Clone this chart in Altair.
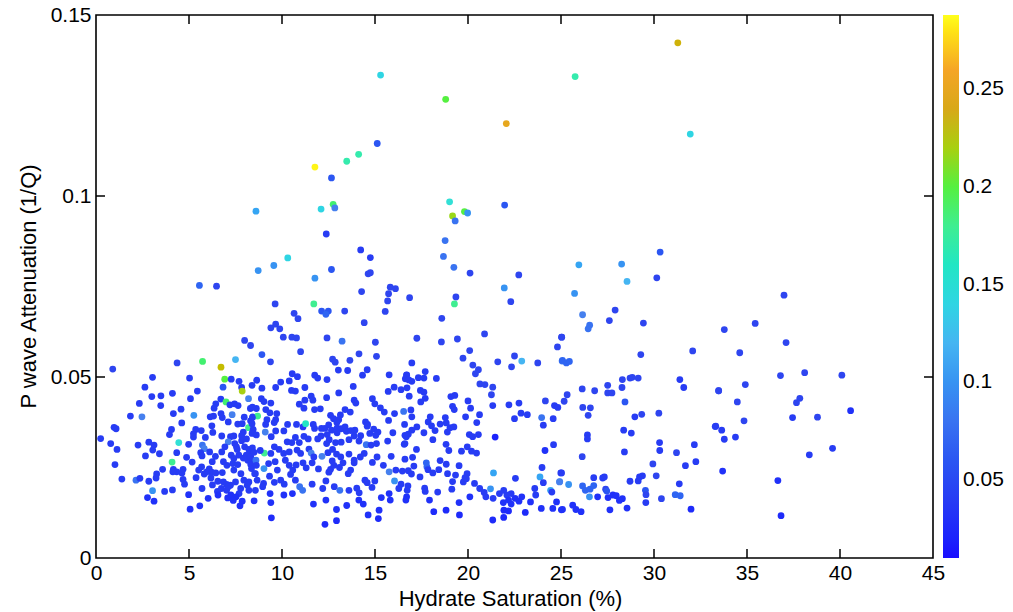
import altair as alt
import pandas as pd

# Each row: [hydrate saturation (%), P-wave attenuation (1/Q), colour value]
low_sat = [
[5.56,0.0753,0.07],[6.48,0.0751,0.05],[7.99,0.0601,0.05],[8.31,0.0587,0.05],[4.36,0.0539,0.05],[5.73,0.0543,0.19],[6.72,0.0527,0.23],[7.5,0.0548,0.12],[0.9,0.0522,0.05],[3.04,0.0499,0.04],[5.03,0.0497,0.04],[6.92,0.0494,0.2],[7.27,0.0494,0.04],[7.69,0.0488,0.04],[6.83,0.0472,0.06],[7.83,0.0471,0.04],[7.86,0.0461,0.22],[2.63,0.0472,0.04],[5.45,0.0461,0.04],[4.11,0.0455,0.04],[3.0,0.0446,0.04],[3.49,0.0448,0.04],[5.08,0.044,0.04],[6.71,0.0439,0.04],[8.2,0.044,0.09],[2.33,0.0427,0.04],[3.48,0.0421,0.04],[6.44,0.0426,0.04],[6.99,0.0431,0.19],[7.2,0.0423,0.04],[7.45,0.0426,0.04],[7.64,0.0421,0.04],[4.57,0.0411,0.04],[6.35,0.0414,0.04],[8.3,0.0413,0.04],[1.85,0.0392,0.04],[2.47,0.039,0.09],[4.16,0.0399,0.04],[5.26,0.0394,0.1],[7.32,0.0396,0.09],[6.14,0.039,0.04],[6.32,0.0392,0.04],[6.72,0.0399,0.04],[6.79,0.0388,0.04],[7.97,0.0389,0.04],[8.43,0.039,0.04],[4.61,0.0373,0.04],[7.11,0.0376,0.04],[7.62,0.037,0.04],[7.86,0.0371,0.04],[8.31,0.0379,0.04],[6.23,0.0365,0.04],[0.97,0.0361,0.04],[1.08,0.0357,0.04],[8.2,0.036,0.18],[4.06,0.0355,0.04],[5.36,0.0355,0.04],[5.24,0.0343,0.04],[5.66,0.0352,0.04],[6.28,0.0347,0.04],[7.92,0.0348,0.04],[8.43,0.0346,0.04],[0.25,0.033,0.04],[3.95,0.0341,0.04],[6.76,0.0337,0.04],[7.23,0.0335,0.04],[7.41,0.0337,0.04],[7.83,0.0338,0.04],[5.24,0.0334,0.04],[5.88,0.0333,0.04],[7.11,0.0321,0.09],[7.83,0.0324,0.04],[8.09,0.0329,0.04],[4.45,0.0319,0.15],[0.79,0.0316,0.04],[2.84,0.032,0.04],[2.26,0.0312,0.04],[3.12,0.0312,0.04],[4.98,0.0314,0.04],[5.72,0.0312,0.08],[5.82,0.0302,0.09],[7.46,0.0316,0.04],[7.55,0.0307,0.04],[6.93,0.0307,0.04],[1.13,0.03,0.04],[3.05,0.0298,0.04],[7.59,0.03,0.04],[7.99,0.0307,0.04],[8.22,0.03,0.04],[8.36,0.0292,0.04],[3.41,0.0288,0.04],[4.34,0.0291,0.04],[5.63,0.0291,0.04],[6.11,0.0293,0.04],[6.76,0.0293,0.04],[2.66,0.0282,0.04],[4.87,0.0278,0.04],[5.7,0.0282,0.04],[6.42,0.0281,0.04],[7.27,0.0284,0.04],[7.41,0.0275,0.04],[7.68,0.0284,0.04],[7.92,0.0276,0.04],[8.08,0.0284,0.04],[8.16,0.027,0.04],[8.32,0.0279,0.04],[8.39,0.027,0.04],[1.02,0.0258,0.04],[4.09,0.0265,0.18],[5.17,0.0265,0.04],[6.25,0.0266,0.04],[6.85,0.0266,0.04],[7.04,0.0256,0.04],[7.36,0.0261,0.04],[7.62,0.0258,0.04],[8.32,0.0258,0.04],[5.68,0.0252,0.04],[5.52,0.0243,0.04],[3.58,0.0245,0.04],[4.16,0.0245,0.04],[4.34,0.0238,0.04],[4.68,0.0245,0.04],[4.62,0.0235,0.04],[4.13,0.0238,0.04],[6.09,0.0246,0.04],[6.21,0.0237,0.04],[5.82,0.0232,0.04],[5.96,0.0238,0.04],[6.44,0.0235,0.04],[6.79,0.0236,0.04],[7.41,0.0243,0.04],[7.79,0.0233,0.04],[8.36,0.0247,0.04],[8.53,0.0233,0.04],[3.26,0.0232,0.04],[3.23,0.0221,0.04],[1.39,0.0218,0.04],[2.15,0.0215,0.08],[2.36,0.022,0.04],[2.84,0.0212,0.04],[4.68,0.0217,0.04],[4.76,0.0204,0.04],[5.38,0.0222,0.04],[6.18,0.0221,0.04],[6.85,0.021,0.04],[7.02,0.0203,0.04],[7.23,0.0201,0.04],[6.26,0.0202,0.04],[6.55,0.0212,0.04],[7.5,0.021,0.04],[7.95,0.0215,0.04],[8.22,0.021,0.04],[3.04,0.0186,0.1],[3.69,0.0184,0.04],[4.11,0.0188,0.04],[5.7,0.0192,0.04],[6.53,0.0184,0.04],[6.74,0.0192,0.04],[7.02,0.0187,0.04],[7.11,0.0197,0.04],[7.78,0.0192,0.04],[7.69,0.0178,0.04],[8.13,0.0201,0.04],[8.22,0.0187,0.04],[4.98,0.0175,0.03],[2.77,0.0167,0.03],[3.12,0.0157,0.03],[6.03,0.0165,0.03],[6.56,0.0174,0.03],[7.08,0.0166,0.03],[7.25,0.0174,0.03],[7.53,0.0169,0.03],[8.5,0.0158,0.03],[7.38,0.0159,0.03],[7.86,0.0157,0.03],[5.58,0.0144,0.03],[5.06,0.0135,0.03],[7.74,0.0144,0.03],
]

mid_sat = [
[9.63,0.0702,0.05],[11.71,0.0702,0.18],[12.13,0.0682,0.06],[12.49,0.0682,0.06],[12.36,0.0673,0.07],[13.37,0.0682,0.05],[14.28,0.0736,0.05],[15.82,0.0748,0.05],[16.1,0.0744,0.05],[15.73,0.073,0.05],[15.68,0.071,0.05],[15.55,0.0681,0.05],[10.65,0.0676,0.05],[10.86,0.0661,0.05],[14.42,0.065,0.05],[9.4,0.0636,0.05],[9.66,0.0646,0.05],[9.88,0.0633,0.05],[10.07,0.061,0.05],[10.53,0.061,0.05],[10.78,0.0608,0.05],[12.42,0.0608,0.05],[13.23,0.0599,0.08],[15.02,0.0596,0.05],[11.0,0.057,0.05],[8.92,0.0562,0.06],[14.14,0.0564,0.05],[15.08,0.0557,0.05],[12.72,0.0549,0.05],[12.86,0.0541,0.05],[13.65,0.0546,0.05],[9.38,0.0542,0.05],[13.03,0.0519,0.04],[13.53,0.0518,0.04],[14.58,0.052,0.04],[14.33,0.0505,0.04],[15.76,0.0506,0.04],[11.76,0.0505,0.04],[11.92,0.0497,0.04],[10.55,0.0509,0.04],[10.83,0.0501,0.04],[12.42,0.0493,0.04],[16.7,0.0505,0.04],[16.63,0.0495,0.04],[8.64,0.0491,0.04],[9.93,0.0486,0.04],[10.39,0.0489,0.04],[9.66,0.0471,0.04],[8.92,0.0469,0.04],[10.51,0.0463,0.04],[10.72,0.0461,0.04],[11.23,0.0471,0.04],[13.83,0.0474,0.04],[16.03,0.0472,0.04],[15.71,0.046,0.04],[8.39,0.0477,0.04],[11.57,0.0447,0.04],[11.66,0.0436,0.04],[12.4,0.0443,0.04],[13.05,0.0456,0.04],[16.4,0.0465,0.04],[16.72,0.047,0.04],[8.89,0.044,0.04],[9.03,0.0432,0.04],[9.4,0.0428,0.04],[11.23,0.0436,0.04],[10.93,0.0425,0.04],[11.18,0.0414,0.04],[11.75,0.041,0.04],[12.06,0.0412,0.04],[13.39,0.041,0.04],[13.88,0.0436,0.04],[13.97,0.0428,0.04],[14.86,0.044,0.04],[14.99,0.0426,0.04],[15.29,0.0415,0.04],[15.5,0.0403,0.04],[16.05,0.0399,0.04],[16.54,0.0405,0.08],[8.62,0.0413,0.04],[8.41,0.0417,0.04],[9.13,0.041,0.04],[9.35,0.0401,0.04],[8.69,0.0392,0.18],[9.72,0.0399,0.04],[12.61,0.0394,0.04],[13.14,0.0395,0.04],[13.05,0.0382,0.04],[13.67,0.0403,0.04],[12.77,0.0385,0.04],[12.95,0.0374,0.04],[14.49,0.0376,0.04],[14.6,0.0369,0.04],[15.73,0.038,0.04],[16.59,0.0369,0.04],[9.19,0.0382,0.04],[9.66,0.0382,0.04],[9.58,0.0374,0.04],[9.12,0.0369,0.04],[10.3,0.0369,0.04],[10.78,0.0369,0.04],[11.13,0.0362,0.04],[11.27,0.0371,0.16],[11.68,0.0369,0.04],[11.75,0.0358,0.04],[12.12,0.0358,0.04],[12.31,0.0358,0.04],[12.51,0.0368,0.04],[12.66,0.0353,0.04],[12.96,0.0359,0.04],[13.18,0.0357,0.04],[13.39,0.0362,0.04],[13.46,0.035,0.04],[12.96,0.0346,0.04],[13.7,0.0352,0.04],[13.92,0.0353,0.04],[14.23,0.0338,0.04],[14.58,0.0364,0.04],[14.72,0.0344,0.04],[14.93,0.0356,0.04],[15.16,0.0348,0.04],[15.04,0.0339,0.04],[8.41,0.0388,0.04],[8.39,0.0371,0.04],[8.45,0.0355,0.04],[8.39,0.0344,0.04],[8.62,0.034,0.04],[9.1,0.0348,0.09],[9.42,0.0335,0.04],[9.66,0.0351,0.04],[10.1,0.0351,0.04],[10.28,0.0321,0.04],[10.53,0.0319,0.04],[10.72,0.0333,0.04],[10.93,0.0319,0.04],[11.18,0.0336,0.04],[11.41,0.0329,0.04],[11.92,0.0329,0.04],[12.1,0.0337,0.04],[12.43,0.0341,0.04],[12.54,0.0327,0.04],[12.4,0.0316,0.04],[12.88,0.0319,0.04],[13.18,0.032,0.04],[13.6,0.0327,0.04],[13.88,0.0337,0.04],[14.14,0.0323,0.04],[14.53,0.0313,0.08],[14.79,0.0312,0.04],[15.08,0.0316,0.04],[15.96,0.0346,0.04],[16.61,0.0339,0.04],[15.68,0.0323,0.04],[16.57,0.0314,0.04],[8.41,0.0304,0.04],[8.5,0.0292,0.04],[9.05,0.029,0.18],[8.83,0.0297,0.04],[9.59,0.0307,0.04],[9.4,0.0289,0.04],[9.84,0.03,0.04],[10.09,0.0289,0.04],[10.39,0.0293,0.04],[10.81,0.0298,0.04],[11.0,0.0289,0.04],[11.45,0.0301,0.04],[11.57,0.029,0.09],[11.71,0.0279,0.04],[12.15,0.0281,0.09],[12.47,0.0291,0.04],[12.72,0.03,0.04],[12.93,0.0287,0.04],[13.16,0.0279,0.04],[12.7,0.0268,0.04],[13.6,0.0287,0.04],[13.88,0.027,0.04],[14.21,0.0279,0.04],[14.42,0.0289,0.04],[14.86,0.0264,0.04],[15.11,0.0279,0.04],[15.87,0.0281,0.04],[16.61,0.0273,0.04],[8.6,0.027,0.08],[8.62,0.0256,0.04],[9.03,0.0247,0.1],[9.28,0.0261,0.04],[9.63,0.0266,0.04],[9.75,0.0243,0.04],[10.18,0.027,0.04],[10.39,0.0256,0.04],[10.58,0.0243,0.04],[10.76,0.0257,0.04],[11.13,0.0263,0.04],[11.3,0.0249,0.04],[11.62,0.0263,0.04],[11.96,0.0246,0.04],[12.52,0.0237,0.04],[12.61,0.0245,0.04],[12.79,0.0256,0.04],[13.09,0.025,0.04],[13.28,0.0263,0.04],[13.56,0.0233,0.04],[13.69,0.0243,0.04],[13.88,0.0263,0.04],[14.46,0.0215,0.04],[14.99,0.0213,0.04],[15.45,0.0256,0.04],[15.76,0.0238,0.09],[16.12,0.0243,0.04],[16.47,0.024,0.04],[16.79,0.0241,0.04],[8.57,0.0233,0.04],[8.66,0.0215,0.04],[9.01,0.0206,0.04],[8.96,0.0197,0.04],[9.33,0.0226,0.04],[9.59,0.0209,0.04],[9.93,0.0215,0.04],[10.12,0.0204,0.04],[10.46,0.0231,0.04],[10.72,0.0215,0.04],[10.95,0.0197,0.08],[11.11,0.0187,0.08],[11.62,0.0204,0.04],[12.19,0.0192,0.04],[12.36,0.0213,0.04],[12.81,0.0197,0.04],[13.11,0.0187,0.08],[13.6,0.0187,0.04],[14.02,0.0193,0.04],[14.15,0.018,0.04],[14.58,0.0208,0.04],[14.84,0.0195,0.04],[16.05,0.0213,0.1],[16.4,0.0204,0.04],[16.28,0.0192,0.04],[16.73,0.0187,0.04],[8.57,0.0187,0.04],[9.36,0.0178,0.03],[10.1,0.0174,0.03],[9.4,0.0153,0.03],[10.56,0.0178,0.03],[11.69,0.0149,0.03],[12.36,0.016,0.03],[12.93,0.0134,0.03],[13.48,0.0145,0.03],[14.13,0.016,0.03],[14.37,0.0149,0.03],[14.63,0.0119,0.03],[15.22,0.0132,0.03],[15.34,0.0167,0.03],[9.43,0.0111,0.025],[12.31,0.0093,0.025],[12.93,0.0103,0.025],[15.18,0.0109,0.025],[15.76,0.0178,0.03],[15.82,0.016,0.03],
]

upper_mid_sat = [
[21.95,0.0746,0.1],[16.86,0.0719,0.05],[19.35,0.0721,0.05],[19.27,0.0702,0.18],[22.3,0.0708,0.05],[18.59,0.0662,0.05],[20.89,0.0619,0.05],[17.25,0.0607,0.05],[18.57,0.0597,0.05],[19.43,0.0605,0.05],[20.09,0.0573,0.05],[24.81,0.0583,0.05],[25.04,0.061,0.05],[19.73,0.0552,0.05],[22.5,0.0558,0.05],[22.89,0.0544,0.12],[21.6,0.0542,0.05],[23.75,0.0539,0.05],[22.34,0.0528,0.05],[25.06,0.0544,0.08],[20.26,0.0533,0.05],[16.98,0.0539,0.04],[20.56,0.052,0.05],[20.4,0.0509,0.05],[17.7,0.0515,0.04],[18.3,0.0496,0.04],[17.33,0.0498,0.04],[17.63,0.0497,0.04],[16.7,0.0506,0.04],[16.82,0.0492,0.04],[16.98,0.0488,0.04],[20.64,0.0481,0.05],[20.91,0.0479,0.05],[21.33,0.0472,0.05],[19.08,0.0446,0.04],[19.29,0.0449,0.04],[17.44,0.0463,0.04],[17.63,0.0458,0.04],[16.84,0.0447,0.04],[17.7,0.0441,0.04],[21.26,0.0451,0.05],[20.0,0.0434,0.04],[20.14,0.0414,0.04],[19.17,0.0419,0.04],[19.26,0.041,0.04],[21.33,0.0421,0.04],[22.2,0.0423,0.04],[22.74,0.0428,0.04],[22.85,0.04,0.04],[23.19,0.0396,0.04],[22.5,0.0385,0.04],[24.16,0.0434,0.05],[24.65,0.0421,0.04],[24.83,0.0416,0.04],[16.93,0.0409,0.04],[17.46,0.0431,0.04],[16.98,0.039,0.04],[17.97,0.039,0.04],[17.86,0.0376,0.04],[18.78,0.0388,0.04],[19.87,0.039,0.04],[20.62,0.0396,0.04],[23.96,0.0388,0.08],[24.58,0.0385,0.04],[24.05,0.0367,0.04],[18.83,0.0373,0.04],[19.03,0.036,0.04],[19.24,0.0362,0.04],[20.47,0.0374,0.04],[17.25,0.0362,0.04],[16.98,0.0353,0.04],[16.79,0.0342,0.04],[18.04,0.0365,0.04],[18.23,0.0352,0.04],[17.63,0.0346,0.04],[18.5,0.037,0.04],[18.89,0.0348,0.04],[20.07,0.0341,0.04],[20.25,0.0335,0.04],[20.56,0.0341,0.04],[21.46,0.0334,0.02],[16.61,0.0316,0.04],[16.68,0.0335,0.04],[18.11,0.0327,0.04],[18.82,0.0314,0.04],[19.96,0.0307,0.04],[20.19,0.0295,0.04],[20.46,0.029,0.04],[24.6,0.0313,0.04],[24.14,0.0297,0.03],[17.23,0.03,0.04],[18.97,0.0297,0.04],[19.65,0.0295,0.04],[17.02,0.0278,0.04],[17.76,0.0263,0.07],[17.79,0.0252,0.07],[18.5,0.0269,0.04],[18.83,0.0259,0.04],[19.52,0.0255,0.04],[17.09,0.0254,0.04],[17.85,0.0244,0.04],[18.43,0.0244,0.04],[18.9,0.0233,0.04],[19.33,0.0229,0.04],[19.95,0.0233,0.04],[19.84,0.0222,0.04],[16.96,0.0232,0.04],[17.42,0.0224,0.04],[18.11,0.0235,0.04],[21.37,0.0235,0.11],[22.55,0.022,0.04],[23.98,0.025,0.04],[23.87,0.0224,0.11],[24.05,0.0208,0.04],[24.99,0.0235,0.04],[24.93,0.0211,0.09],[19.17,0.0211,0.04],[19.13,0.019,0.04],[19.75,0.021,0.04],[19.91,0.0219,0.04],[16.77,0.0199,0.04],[17.67,0.0193,0.04],[17.7,0.0184,0.04],[18.37,0.0182,0.04],[20.35,0.0206,0.04],[20.63,0.0192,0.04],[20.87,0.0181,0.04],[21.21,0.0191,0.1],[20.96,0.0169,0.04],[21.35,0.0165,0.04],[21.69,0.0178,0.04],[21.92,0.0187,0.04],[22.09,0.0174,0.04],[22.32,0.0178,0.04],[21.9,0.0153,0.03],[22.18,0.016,0.03],[22.32,0.0149,0.03],[22.53,0.0165,0.03],[22.74,0.0157,0.03],[22.89,0.0169,0.03],[23.59,0.0192,0.04],[23.64,0.0174,0.04],[24.44,0.0187,0.11],[24.51,0.0182,0.04],[23.36,0.0155,0.03],[24.76,0.0155,0.03],[25.02,0.0133,0.03],[24.56,0.0137,0.03],[23.94,0.0137,0.03],[16.7,0.0169,0.03],[16.66,0.016,0.03],[17.93,0.016,0.03],[19.52,0.0153,0.03],[20.1,0.0169,0.03],[18.16,0.0128,0.025],[18.82,0.0132,0.025],[19.54,0.0119,0.025],[21.33,0.0105,0.025],[21.93,0.0132,0.025],[22.18,0.013,0.025],[21.92,0.0112,0.025],[23.08,0.0126,0.025],
]

high_sat = [
[28.55,0.0764,0.12],[25.73,0.0731,0.1],[27.91,0.0685,0.05],[26.16,0.0672,0.09],[27.6,0.0656,0.05],[29.43,0.0649,0.05],[26.54,0.0643,0.08],[26.46,0.0633,0.08],[25.03,0.061,0.05],[32.08,0.0572,0.05],[29.29,0.0562,0.05],[25.08,0.0546,0.07],[25.29,0.0539,0.07],[25.45,0.0543,0.07],[28.3,0.0493,0.05],[28.71,0.0497,0.05],[28.83,0.0499,0.05],[29.15,0.0497,0.05],[27.51,0.0477,0.05],[28.28,0.0471,0.05],[31.39,0.0493,0.04],[31.6,0.0471,0.04],[26.14,0.0467,0.05],[26.81,0.0462,0.05],[27.51,0.0456,0.05],[27.74,0.0456,0.05],[25.33,0.0451,0.05],[33.47,0.0462,0.05],[25.17,0.0433,0.05],[28.44,0.0431,0.06],[26.17,0.0416,0.05],[26.58,0.0415,0.05],[26.46,0.0394,0.05],[28.97,0.039,0.04],[29.34,0.0397,0.05],[30.26,0.04,0.05],[33.29,0.0363,0.05],[28.37,0.0353,0.04],[28.78,0.0345,0.04],[26.42,0.034,0.04],[26.42,0.0329,0.04],[30.3,0.0319,0.04],[32.17,0.0313,0.04],[30.31,0.0297,0.04],[28.41,0.0293,0.04],[31.21,0.0291,0.05],[26.14,0.028,0.05],[29.94,0.026,0.05],[32.25,0.0266,0.04],[31.69,0.0255,0.04],[25.03,0.0235,0.04],[24.92,0.021,0.09],[25.41,0.0203,0.1],[30.12,0.0227,0.05],[29.22,0.0224,0.04],[29.38,0.0227,0.04],[28.71,0.0212,0.04],[29.15,0.0213,0.04],[26.76,0.0222,0.04],[27.24,0.0221,0.04],[27.33,0.0224,0.04],[26.16,0.0199,0.07],[26.31,0.0187,0.07],[26.56,0.019,0.07],[26.76,0.02,0.07],[26.53,0.0169,0.1],[31.36,0.0205,0.04],[27.4,0.019,0.05],[27.46,0.0185,0.06],[26.97,0.0169,0.03],[27.53,0.0167,0.03],[27.79,0.0174,0.03],[27.97,0.0172,0.03],[28.3,0.0164,0.03],[28.14,0.0159,0.03],[29.54,0.0187,0.06],[29.57,0.0175,0.05],[29.56,0.0153,0.04],[30.4,0.0164,0.05],[31.14,0.0175,0.07],[31.41,0.0172,0.07],[28.55,0.0138,0.03],[27.63,0.0133,0.03],[31.99,0.0135,0.025],[25.08,0.0134,0.03],[25.63,0.0146,0.03],[25.8,0.0134,0.03],[26.08,0.0128,0.03],
]

very_high_sat = [
[36.99,0.0726,0.05],[35.44,0.0648,0.05],[33.78,0.0631,0.05],[37.1,0.0595,0.05],[34.61,0.0567,0.05],[36.8,0.0504,0.05],[38.1,0.0512,0.05],[40.1,0.0505,0.05],[34.91,0.0479,0.05],[33.48,0.0462,0.05],[34.48,0.0431,0.05],[37.84,0.0441,0.05],[37.66,0.0429,0.05],[40.57,0.0407,0.03],[37.45,0.0388,0.04],[38.79,0.0389,0.05],[34.84,0.0379,0.05],[33.32,0.0364,0.04],[33.64,0.0353,0.04],[33.78,0.0328,0.04],[34.38,0.0334,0.04],[39.6,0.0303,0.04],[38.35,0.0285,0.04],[33.69,0.024,0.03],[36.66,0.0214,0.03],[36.83,0.0117,0.025],
]

high_atten = [
[15.3,0.1334,0.14],[18.8,0.1267,0.2],[22.06,0.12,0.25],[15.12,0.1145,0.06],[14.12,0.1115,0.17],[13.48,0.1096,0.17],[11.77,0.108,0.285],[12.66,0.105,0.06],[12.75,0.0977,0.19],[12.1,0.0964,0.14],[12.84,0.0967,0.09],[8.6,0.0958,0.11],[19.01,0.0984,0.15],[19.17,0.0945,0.215],[19.81,0.0957,0.2],[19.98,0.0953,0.1],[19.31,0.0931,0.08],[21.97,0.0975,0.06],[12.38,0.0895,0.04],[18.77,0.0877,0.08],[14.23,0.0851,0.04],[14.75,0.083,0.04],[18.68,0.0833,0.08],[10.31,0.0829,0.14],[9.56,0.0808,0.1],[8.72,0.0794,0.1],[12.66,0.0797,0.06],[11.77,0.0773,0.1],[14.63,0.0785,0.05],[14.75,0.0788,0.05],[19.24,0.0803,0.08],[20.11,0.0787,0.05],[22.73,0.0782,0.05],[31.28,0.1423,0.235],[25.76,0.133,0.17],[31.95,0.1171,0.14],[30.33,0.0845,0.06],[25.96,0.081,0.11],[28.26,0.0812,0.1],[30.15,0.0774,0.05],
]

x_tick_values = [0, 5, 10, 15, 20, 25, 30, 35, 40, 45]
y_tick_values = [0, 0.05, 0.1, 0.15]
color_tick_values = [0.05, 0.1, 0.15, 0.2, 0.25]
color_stops = [0.01, 0.05, 0.09, 0.12, 0.145, 0.175, 0.2, 0.22, 0.24, 0.26, 0.288]
color_range = ["#1a0dff", "#2e45f0", "#4680ee", "#45b5f2", "#40dcdc", "#45eda0",
               "#55f040", "#a8d010", "#d8a818", "#f5a526", "#ffff1c"]

rows = low_sat + mid_sat + upper_mid_sat + high_sat + very_high_sat + high_atten
df = pd.DataFrame(rows, columns=["sat", "atten", "q"])

W, H = 837, 543
FONT = "Liberation Sans"

x_scale = alt.Scale(domain=[0, 45], nice=False, zero=False)
y_scale = alt.Scale(domain=[0, 0.15], nice=False, zero=False)

x_axis = alt.Axis(values=x_tick_values, title="Hydrate Saturation (%)",
                  ticks=False, domain=False, grid=False, labelFlush=False,
                  labelPadding=4, labelFont=FONT, labelFontSize=21,
                  labelColor="black", titleFont=FONT, titleFontSize=22,
                  titleFontWeight="normal", titleColor="black",
                  titleX=414, titleY=40, titleBaseline="middle")
y_axis = alt.Axis(values=y_tick_values, format=".2~f", title="P wave Attenuation (1/Q)",
                  ticks=False, domain=False, grid=False, labelFlush=False,
                  labelOverlap=False, labelBound=False,
                  labelPadding=5, labelFont=FONT, labelFontSize=21,
                  labelColor="black", titleFont=FONT, titleFontSize=22,
                  titleFontWeight="normal", titleColor="black",
                  titleAngle=270, titleX=-68, titleY=271,
                  titleAlign="center", titleBaseline="middle")

points = alt.Chart(df).mark_circle(size=46, opacity=1).encode(
    x=alt.X("sat:Q", scale=x_scale, axis=x_axis),
    y=alt.Y("atten:Q", scale=y_scale, axis=y_axis),
    color=alt.Color("q:Q", scale=alt.Scale(domain=color_stops, range=color_range),
                    legend=alt.Legend(orient="none", legendX=847, legendY=0,
                                      direction="vertical", title=None,
                                      gradientLength=H, gradientThickness=16,
                                      gradientStrokeWidth=0, values=color_tick_values,
                                      format=".2~f", labelFont=FONT, labelFontSize=21,
                                      labelColor="black", labelOffset=4,
                                      labelOverlap=False)),
)

# inward tick marks on all four sides of the frame (same fields, so axes merge)
xt = pd.DataFrame({"sat": x_tick_values[1:-1]})
yt = pd.DataFrame({"atten": y_tick_values[1:-1]})
tick_style = dict(color="black", strokeWidth=1.5)

x_bottom = alt.Chart(xt).mark_rule(**tick_style).encode(
    x=alt.X("sat:Q", scale=x_scale, axis=x_axis), y=alt.value(H), y2=alt.value(H - 9))
x_top = alt.Chart(xt).mark_rule(**tick_style).encode(
    x=alt.X("sat:Q", scale=x_scale, axis=x_axis), y=alt.value(0), y2=alt.value(9))
y_left = alt.Chart(yt).mark_rule(**tick_style).encode(
    y=alt.Y("atten:Q", scale=y_scale, axis=y_axis), x=alt.value(0), x2=alt.value(9))
y_right = alt.Chart(yt).mark_rule(**tick_style).encode(
    y=alt.Y("atten:Q", scale=y_scale, axis=y_axis), x=alt.value(W), x2=alt.value(W - 9))

chart = alt.layer(points, x_bottom, x_top, y_left, y_right).properties(
    width=W, height=H,
    autosize=alt.AutoSizeParams(type="none"),
    padding={"left": 96, "top": 15, "right": 80, "bottom": 54},
    background="white",
).configure_view(stroke="black", strokeWidth=1.6)

chart.save("out.html", embed_options={"renderer": "svg", "actions": False})
